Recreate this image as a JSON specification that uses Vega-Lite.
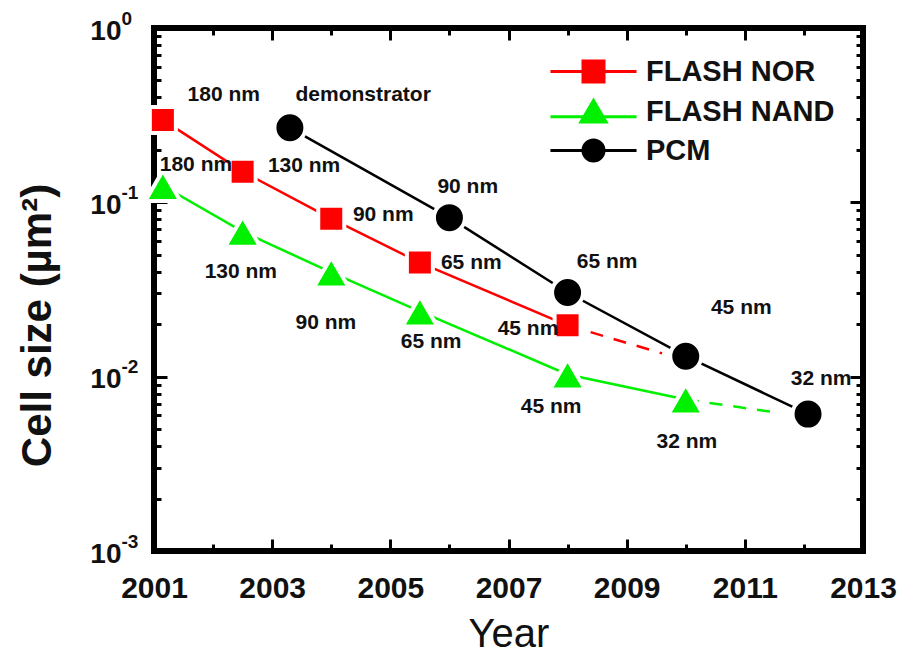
{
  "$schema": "https://vega.github.io/schema/vega-lite/v6.json",
  "width": 709,
  "height": 523,
  "autosize": {"type": "none"},
  "padding": {"left": 154, "top": 28, "right": 40, "bottom": 103},
  "background": "white",
  "config": {
    "view": {"stroke": "black", "strokeWidth": 6},
    "axis": {"grid": false, "domain": false, "tickColor": "black", "tickWidth": 3, "labelFont": "Liberation Sans", "titleFont": "Liberation Sans", "labelColor": "#111", "titleColor": "#111", "labelOverlap": false, "labelBound": false, "labelFlush": false}
  },
  "datasets": {
    "pts": [
      {"series": "FLASH NOR", "year": 2001.15, "size": 0.297},
      {"series": "FLASH NOR", "year": 2002.5, "size": 0.150},
      {"series": "FLASH NOR", "year": 2004.0, "size": 0.0806},
      {"series": "FLASH NOR", "year": 2005.5, "size": 0.0451},
      {"series": "FLASH NOR", "year": 2008.0, "size": 0.0197},
      {"series": "FLASH NAND", "year": 2001.15, "size": 0.1245},
      {"series": "FLASH NAND", "year": 2002.5, "size": 0.068},
      {"series": "FLASH NAND", "year": 2004.0, "size": 0.0396},
      {"series": "FLASH NAND", "year": 2005.5, "size": 0.0237},
      {"series": "FLASH NAND", "year": 2008.0, "size": 0.0103},
      {"series": "FLASH NAND", "year": 2010.0, "size": 0.0074},
      {"series": "PCM", "year": 2003.3, "size": 0.2676},
      {"series": "PCM", "year": 2006.0, "size": 0.0817},
      {"series": "PCM", "year": 2008.0, "size": 0.0304},
      {"series": "PCM", "year": 2010.0, "size": 0.0131},
      {"series": "PCM", "year": 2012.07, "size": 0.0061}
    ],
    "dash": [
      {"series": "FLASH NOR", "year": 2008.0, "size": 0.0197},
      {"series": "FLASH NOR", "year": 2009.6, "size": 0.0136},
      {"series": "FLASH NAND", "year": 2010.0, "size": 0.0074},
      {"series": "FLASH NAND", "year": 2011.5, "size": 0.00625}
    ],
    "labels": [
      {"label": "180 nm", "year": 2002.18, "size": 0.413},
      {"label": "demonstrator", "year": 2004.54, "size": 0.413},
      {"label": "180 nm", "year": 2001.71, "size": 0.164},
      {"label": "130 nm", "year": 2003.54, "size": 0.162},
      {"label": "90 nm", "year": 2006.31, "size": 0.123},
      {"label": "90 nm", "year": 2004.88, "size": 0.085},
      {"label": "65 nm", "year": 2006.37, "size": 0.0451},
      {"label": "65 nm", "year": 2008.67, "size": 0.0457},
      {"label": "130 nm", "year": 2002.47, "size": 0.0401},
      {"label": "45 nm", "year": 2007.33, "size": 0.0187},
      {"label": "45 nm", "year": 2010.94, "size": 0.0249},
      {"label": "90 nm", "year": 2003.91, "size": 0.0202},
      {"label": "65 nm", "year": 2005.69, "size": 0.0159},
      {"label": "32 nm", "year": 2012.29, "size": 0.00966},
      {"label": "45 nm", "year": 2007.72, "size": 0.00667},
      {"label": "32 nm", "year": 2010.02, "size": 0.00421}
    ]
  },
  "resolve": {
    "axis": {"x": "independent", "y": "independent"}
  },
  "layer": [
    {
      "data": {"name": "pts"},
      "mark": {"type": "point", "opacity": 0},
      "encoding": {
        "x": {"field": "year", "type": "quantitative", "scale": {"domain": [2001, 2013], "nice": false, "zero": false},
              "axis": {"orient": "bottom", "values": [2001, 2003, 2005, 2007, 2009, 2011, 2013], "tickSize": -12, "labels": false, "title": null}},
        "y": {"field": "size", "type": "quantitative", "scale": {"type": "log", "domain": [0.001, 1], "nice": false},
              "axis": {"orient": "left", "values": [0.001, 0.01, 0.1, 1], "tickSize": -13, "labels": false, "title": null}}
      }
    },
    {
      "data": {"name": "pts"},
      "mark": {"type": "point", "opacity": 0},
      "encoding": {
        "x": {"field": "year", "type": "quantitative",
              "axis": {"orient": "bottom", "values": [2002, 2004, 2006, 2008, 2010, 2012], "tickSize": -7, "labels": false, "title": null}},
        "y": {"field": "size", "type": "quantitative",
              "axis": {"orient": "left", "values": [0.002, 0.003, 0.004, 0.005, 0.006, 0.007, 0.008, 0.009, 0.02, 0.03, 0.04, 0.05, 0.06, 0.07, 0.08, 0.09, 0.2, 0.3, 0.4, 0.5, 0.6, 0.7, 0.8, 0.9], "tickSize": -7, "labels": false, "title": null}}
      }
    },
    {
      "data": {"name": "pts"},
      "mark": {"type": "point", "opacity": 0},
      "encoding": {
        "x": {"field": "year", "type": "quantitative",
              "axis": {"orient": "bottom", "values": [2001, 2003, 2005, 2007, 2009, 2011, 2013], "ticks": false, "labelPadding": 46, "labelBaseline": "alphabetic", "labelFontSize": 30, "labelFontWeight": "bold", "format": "d",
                       "title": "Year", "titleFontSize": 40, "titleFontWeight": "normal", "titleY": 95, "titleBaseline": "alphabetic"}},
        "y": {"field": "size", "type": "quantitative",
              "axis": {"orient": "left", "values": [0.001, 0.01, 0.1, 1], "ticks": false, "labelExpr": "'10'", "labelFontSize": 28, "labelFontWeight": "bold", "labelPadding": 33, "labelOffset": 3,
                       "title": "Cell size (µm²)", "titleFontSize": 42, "titleFontWeight": "bold", "titleX": -117, "titleY": 297, "titleAngle": -90, "titleAlign": "center", "titleBaseline": "middle"}}
      }
    },
    {
      "data": {"name": "pts"},
      "mark": {"type": "point", "opacity": 0},
      "encoding": {
        "x": {"field": "year", "type": "quantitative",
              "axis": {"orient": "top", "values": [2001, 2003, 2005, 2007, 2009, 2011, 2013], "tickSize": -12, "labels": false, "title": null}},
        "y": {"field": "size", "type": "quantitative",
              "axis": {"orient": "right", "values": [0.001, 0.01, 0.1, 1], "tickSize": -13, "labels": false, "title": null}}
      }
    },
    {
      "data": {"name": "pts"},
      "mark": {"type": "point", "opacity": 0},
      "encoding": {
        "x": {"field": "year", "type": "quantitative",
              "axis": {"orient": "top", "values": [2002, 2004, 2006, 2008, 2010, 2012], "tickSize": -7, "labels": false, "title": null}},
        "y": {"field": "size", "type": "quantitative",
              "axis": {"orient": "right", "values": [0.002, 0.003, 0.004, 0.005, 0.006, 0.007, 0.008, 0.009, 0.02, 0.03, 0.04, 0.05, 0.06, 0.07, 0.08, 0.09, 0.2, 0.3, 0.4, 0.5, 0.6, 0.7, 0.8, 0.9], "tickSize": -7, "labels": false, "title": null}}
      }
    },
    {
      "data": {"name": "pts"},
      "mark": {"type": "point", "opacity": 0},
      "encoding": {
        "x": {"field": "year", "type": "quantitative", "axis": null},
        "y": {"field": "size", "type": "quantitative",
              "axis": {"orient": "left", "values": [0.001, 0.01, 0.1, 1], "ticks": false, "labelExpr": "datum.value >= 0.5 ? '0' : datum.value >= 0.05 ? '-1' : datum.value >= 0.005 ? '-2' : '-3'", "labelFontSize": 19, "labelFontWeight": "bold", "labelAlign": "left", "labelPadding": 33, "labelOffset": -10, "title": null}}
      }
    },
    {
      "data": {"name": "pts"},
      "mark": {"type": "line", "strokeWidth": 2.5},
      "encoding": {
        "x": {"field": "year", "type": "quantitative", "axis": null},
        "y": {"field": "size", "type": "quantitative", "axis": null},
        "color": {"field": "series", "type": "nominal", "scale": {"range": ["#00f000", "#ff0000", "#000000"]}, "legend": null}
      }
    },
    {
      "data": {"name": "dash"},
      "mark": {"type": "line", "strokeWidth": 2.5, "strokeDash": [13, 11]},
      "encoding": {
        "x": {"field": "year", "type": "quantitative", "axis": null},
        "y": {"field": "size", "type": "quantitative", "axis": null},
        "color": {"field": "series", "type": "nominal", "legend": null}
      }
    },
    {
      "data": {"name": "pts"},
      "transform": [{"filter": "datum.series == 'FLASH NOR'"}],
      "mark": {"type": "point", "shape": "square", "size": 676, "filled": true, "opacity": 1, "stroke": "white", "strokeWidth": 4},
      "encoding": {
        "x": {"field": "year", "type": "quantitative", "axis": null},
        "y": {"field": "size", "type": "quantitative", "axis": null},
        "color": {"field": "series", "type": "nominal", "legend": null}
      }
    },
    {
      "data": {"name": "pts"},
      "transform": [{"filter": "datum.series == 'FLASH NAND'"}],
      "mark": {"type": "point", "shape": "triangle-up", "size": 1225, "filled": true, "opacity": 1, "stroke": "white", "strokeWidth": 4},
      "encoding": {
        "x": {"field": "year", "type": "quantitative", "axis": null},
        "y": {"field": "size", "type": "quantitative", "axis": null},
        "color": {"field": "series", "type": "nominal", "legend": null}
      }
    },
    {
      "data": {"name": "pts"},
      "transform": [{"filter": "datum.series == 'PCM'"}],
      "mark": {"type": "point", "shape": "circle", "size": 961, "filled": true, "opacity": 1, "stroke": "white", "strokeWidth": 4},
      "encoding": {
        "x": {"field": "year", "type": "quantitative", "axis": null},
        "y": {"field": "size", "type": "quantitative", "axis": null},
        "color": {"field": "series", "type": "nominal", "legend": null}
      }
    },
    {
      "data": {"name": "labels"},
      "mark": {"type": "text", "font": "Liberation Sans", "fontWeight": "bold", "fontSize": 21, "color": "#111", "align": "center", "baseline": "middle"},
      "encoding": {
        "x": {"field": "year", "type": "quantitative", "axis": null},
        "y": {"field": "size", "type": "quantitative", "axis": null},
        "text": {"field": "label", "type": "nominal"}
      }
    },
    {
      "data": {"name": "pts"},
      "transform": [{"filter": "datum.year > 3000"}],
      "mark": {"type": "point", "filled": true, "opacity": 1},
      "encoding": {
        "x": {"field": "year", "type": "quantitative", "axis": null},
        "y": {"field": "size", "type": "quantitative", "axis": null},
        "fill": {"field": "series", "type": "nominal", "scale": {"domain": ["FLASH NOR", "FLASH NAND", "PCM"], "range": ["#ff0000", "#00f000", "#000000"]},
                 "legend": {"orient": "none", "legendX": 425, "legendY": 29, "title": null, "direction": "vertical", "symbolSize": 441, "symbolStrokeWidth": 3, "labelFont": "Liberation Sans", "labelFontWeight": "bold", "labelFontSize": 29, "labelColor": "#111", "labelOffset": 38, "labelLimit": 400, "rowPadding": 6, "padding": 0}},
        "stroke": {"field": "series", "type": "nominal", "scale": {"domain": ["FLASH NOR", "FLASH NAND", "PCM"], "range": ["#ff0000", "#00f000", "#000000"]},
                 "legend": {"orient": "none", "legendX": 425, "legendY": 29, "title": null, "direction": "vertical", "symbolSize": 441, "symbolStrokeWidth": 3, "labelFont": "Liberation Sans", "labelFontWeight": "bold", "labelFontSize": 29, "labelColor": "#111", "labelOffset": 38, "labelLimit": 400, "rowPadding": 6, "padding": 0}},
        "shape": {"field": "series", "type": "nominal", "scale": {"domain": ["FLASH NOR", "FLASH NAND", "PCM"], "range": ["M-4.1,0H4.1M-1,-1H1V1H-1Z", "M-4.1,0.5H4.1M0,-1.05L1.2,1H-1.2Z", "M-4.1,0H4.1M-1,0A1,1,0,1,1,1,0A1,1,0,1,1,-1,0Z"]},
                 "legend": {"orient": "none", "legendX": 425, "legendY": 29, "title": null, "direction": "vertical", "symbolSize": 441, "symbolStrokeWidth": 3, "labelFont": "Liberation Sans", "labelFontWeight": "bold", "labelFontSize": 29, "labelColor": "#111", "labelOffset": 38, "labelLimit": 400, "rowPadding": 6, "padding": 0}}
      }
    }
  ]
}
